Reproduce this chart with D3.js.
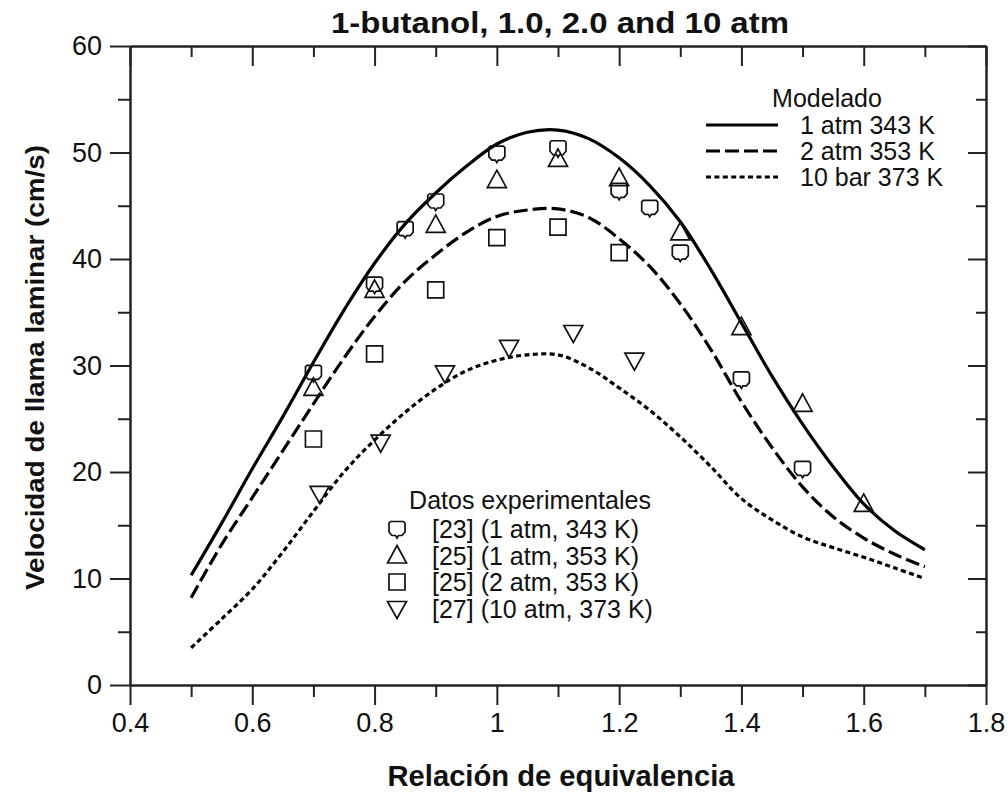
<!DOCTYPE html>
<html>
<head>
<meta charset="utf-8">
<script src="https://cdn.jsdelivr.net/npm/d3@7"></script>
<style>
  body { margin: 0; background: #fff; }
  text { font-family: "Liberation Sans", Arial, sans-serif; fill: #111; }
</style>
</head>
<body>
<div class="d3-container"></div>
<script>
const w = 1008
const h = 795
const m = { top: 46, right: 22, bottom: 110, left: 130 }

// model curves (phi, cm/s)
const phi = [0.5, 0.55, 0.6, 0.65, 0.7, 0.75, 0.8, 0.85, 0.9, 0.95, 1.0, 1.05, 1.1, 1.15, 1.2, 1.25, 1.3, 1.35, 1.4, 1.45, 1.5, 1.55, 1.6, 1.65, 1.7]
const model1atm = [10.3, 15.2, 20.3, 25.2, 30.3, 35.2, 39.6, 43.3, 46.2, 48.7, 50.8, 51.9, 52.1, 51.3, 49.5, 46.9, 43.5, 39.0, 34.0, 29.0, 24.5, 20.5, 17.0, 14.5, 12.7]
const model2atm = [8.2, 13.2, 17.6, 22.0, 26.4, 30.7, 34.6, 37.9, 40.4, 42.5, 44.0, 44.6, 44.7, 43.9, 41.9, 39.3, 35.8, 31.5, 26.6, 22.3, 18.6, 15.8, 13.8, 12.3, 11.1]
const model10bar = [3.5, 6.2, 9.0, 12.5, 16.3, 20.0, 23.0, 25.6, 27.8, 29.5, 30.5, 31.0, 31.0, 29.8, 27.9, 25.8, 23.3, 20.5, 17.5, 15.5, 13.9, 12.9, 12.0, 11.0, 10.0]

// experimental points
const ref23phi = [0.7, 0.8, 0.85, 0.9, 1.0, 1.1, 1.2, 1.25, 1.3, 1.4, 1.5]
const ref23v = [29.3, 37.6, 42.8, 45.4, 49.9, 50.4, 46.4, 44.8, 40.6, 28.7, 20.3]
const ref25aphi = [0.7, 0.8, 0.9, 1.0, 1.1, 1.2, 1.3, 1.4, 1.5, 1.6]
const ref25av = [27.9, 37.1, 43.2, 47.4, 49.4, 47.6, 42.5, 33.6, 26.4, 17.0]
const ref25bphi = [0.7, 0.8, 0.9, 1.0, 1.1, 1.2]
const ref25bv = [23.1, 31.1, 37.1, 42.0, 43.0, 40.6]
const ref27phi = [0.71, 0.81, 0.915, 1.02, 1.125, 1.225]
const ref27v = [18.0, 22.8, 29.3, 31.7, 33.1, 30.5]

const xTicks = [0.4, 0.6, 0.8, 1.0, 1.2, 1.4, 1.6, 1.8]
const xTickLabels = ['0.4', '0.6', '0.8', '1', '1.2', '1.4', '1.6', '1.8']
const xMinor = [0.5, 0.7, 0.9, 1.1, 1.3, 1.5, 1.7]
const yTicks = [0, 10, 20, 30, 40, 50, 60]
const yMinor = [5, 15, 25, 35, 45, 55]

const modelNames = ['1 atm 343 K', '2 atm 353 K', '10 bar 373 K']
const expNames = ['[23] (1 atm, 343 K)', '[25] (1 atm, 353 K)', '[25] (2 atm, 353 K)', '[27] (10 atm, 373 K)']

const svg = d3.select('.d3-container')
    .append('svg')
    .attr('width', w)
    .attr('height', h)

const x = d3.scaleLinear().domain([0.4, 1.8]).range([m.left, w - m.right])
const y = d3.scaleLinear().domain([0, 60]).range([h - m.bottom, m.top])

const axisColor = '#222'

const styleAxis = (g) => {
    g.select('.domain').attr('stroke', axisColor).attr('stroke-width', 2)
    g.selectAll('.tick line').attr('stroke', axisColor).attr('stroke-width', 2)
    g.selectAll('.tick text')
        .attr('font-size', 27)
        .attr('font-family', '"Liberation Sans", Arial, sans-serif')
        .attr('fill', '#111')
}

// bottom
svg.append('g')
    .attr('transform', `translate(0, ${h - m.bottom})`)
    .call(d3.axisBottom(x).tickValues(xTicks).tickSize(20).tickSizeOuter(0)
        .tickFormat((d, i) => xTickLabels[i]).tickPadding(8))
    .call(styleAxis)
svg.append('g')
    .attr('transform', `translate(0, ${h - m.bottom})`)
    .call(d3.axisBottom(x).tickValues(xMinor).tickSize(12).tickSizeOuter(0).tickFormat(''))
    .call(styleAxis)

// top
svg.append('g')
    .attr('transform', `translate(0, ${m.top})`)
    .call(d3.axisBottom(x).tickValues(xTicks).tickSize(20).tickSizeOuter(0).tickFormat(''))
    .call(styleAxis)
svg.append('g')
    .attr('transform', `translate(0, ${m.top})`)
    .call(d3.axisBottom(x).tickValues(xMinor).tickSize(11).tickSizeOuter(0).tickFormat(''))
    .call(styleAxis)

// left
svg.append('g')
    .attr('transform', `translate(${m.left}, 0)`)
    .call(d3.axisLeft(y).tickValues(yTicks).tickSize(20).tickSizeOuter(0).tickPadding(8))
    .call(styleAxis)
svg.append('g')
    .attr('transform', `translate(${m.left}, 0)`)
    .call(d3.axisLeft(y).tickValues(yMinor).tickSize(12).tickSizeOuter(0).tickFormat(''))
    .call(styleAxis)

// right
svg.append('g')
    .attr('transform', `translate(${w - m.right}, 0)`)
    .call(d3.axisLeft(y).tickValues(yTicks).tickSize(18).tickSizeOuter(0).tickFormat(''))
    .call(styleAxis)
svg.append('g')
    .attr('transform', `translate(${w - m.right}, 0)`)
    .call(d3.axisLeft(y).tickValues(yMinor).tickSize(10).tickSizeOuter(0).tickFormat(''))
    .call(styleAxis)

// model lines
const line = d3.line()
    .x(d => x(d[0]))
    .y(d => y(d[1]))
    .curve(d3.curveCatmullRom)

const dashes = [null, '14,5', '5,3.4']
const models = [model1atm, model2atm, model10bar]

models.forEach((vals, k) => {
    svg.append('path')
        .datum(phi.map((p, i) => [p, vals[i]]))
        .attr('fill', 'none')
        .attr('stroke', '#000')
        .attr('stroke-width', 3.2)
        .attr('stroke-dasharray', dashes[k])
        .attr('d', line)
})

// markers
const markerPath = (type) => {
    if (type === 'circ') {
        return 'M-6.5,-7.5 L6.5,-7.5 L8,-6 L8,3 L5,6.5 L1.5,6.5 L0,9 L-1.5,6.5 L-5,6.5 L-8,3 L-8,-6 Z'
    }
    if (type === 'tri') return 'M0,-10 L9.5,7.5 L-9.5,7.5 Z'
    if (type === 'sq') return 'M-8,-8 L8,-8 L8,8 L-8,8 Z'
    return 'M-9.5,-7 L9.5,-7 L0,10 Z'
}

const series = [
    { xs: ref23phi, ys: ref23v, type: 'circ' },
    { xs: ref25aphi, ys: ref25av, type: 'tri' },
    { xs: ref25bphi, ys: ref25bv, type: 'sq' },
    { xs: ref27phi, ys: ref27v, type: 'dtri' }
]

series.forEach(s => {
    svg.append('g')
        .selectAll('path')
        .data(s.xs.map((p, i) => [p, s.ys[i]]))
        .enter()
        .append('path')
        .attr('transform', d => `translate(${x(d[0])}, ${y(d[1])})`)
        .attr('d', markerPath(s.type))
        .attr('fill', 'none')
        .attr('stroke', '#111')
        .attr('stroke-width', 1.7)
})

// title and axis labels
svg.append('text')
    .attr('x', 560)
    .attr('y', 33)
    .attr('text-anchor', 'middle')
    .attr('font-size', 29)
    .attr('font-weight', 'bold')
    .attr('textLength', 458)
    .attr('lengthAdjust', 'spacingAndGlyphs')
    .text('1-butanol, 1.0, 2.0 and 10 atm')

svg.append('text')
    .attr('x', 561)
    .attr('y', 786)
    .attr('text-anchor', 'middle')
    .attr('font-size', 29)
    .attr('font-weight', 'bold')
    .attr('textLength', 347)
    .attr('lengthAdjust', 'spacingAndGlyphs')
    .text('Relación de equivalencia')

svg.append('text')
    .attr('transform', `translate(44, ${(m.top + h - m.bottom) / 2 + 2}) rotate(-90)`)
    .attr('text-anchor', 'middle')
    .attr('font-size', 26)
    .attr('font-weight', 'bold')
    .attr('textLength', 445)
    .attr('lengthAdjust', 'spacingAndGlyphs')
    .text('Velocidad de llama laminar (cm/s)')

// model legend
const leg = svg.append('g').attr('transform', 'translate(706, 0)')
leg.append('text')
    .attr('x', 121)
    .attr('y', 107)
    .attr('text-anchor', 'middle')
    .attr('font-size', 25)
    .text('Modelado')

modelNames.forEach((name, i) => {
    const yy = 125 + i * 26
    leg.append('line')
        .attr('x1', 0).attr('x2', 72)
        .attr('y1', yy).attr('y2', yy)
        .attr('stroke', '#000')
        .attr('stroke-width', 3.2)
        .attr('stroke-dasharray', dashes[i])
    leg.append('text')
        .attr('x', 94)
        .attr('y', yy + 9)
        .attr('font-size', 25)
        .text(name)
})

// experimental legend
const leg2 = svg.append('g').attr('transform', 'translate(397, 0)')
leg2.append('text')
    .attr('x', 133)
    .attr('y', 509)
    .attr('text-anchor', 'middle')
    .attr('font-size', 25)
    .text('Datos experimentales')

expNames.forEach((name, i) => {
    const yy = 529 + i * 26.5
    leg2.append('path')
        .attr('transform', `translate(0, ${yy})`)
        .attr('d', markerPath(series[i].type))
        .attr('fill', 'none')
        .attr('stroke', '#111')
        .attr('stroke-width', 1.7)
    leg2.append('text')
        .attr('x', 35)
        .attr('y', yy + 9)
        .attr('font-size', 25)
        .text(name)
})
</script>
</body>
</html>
